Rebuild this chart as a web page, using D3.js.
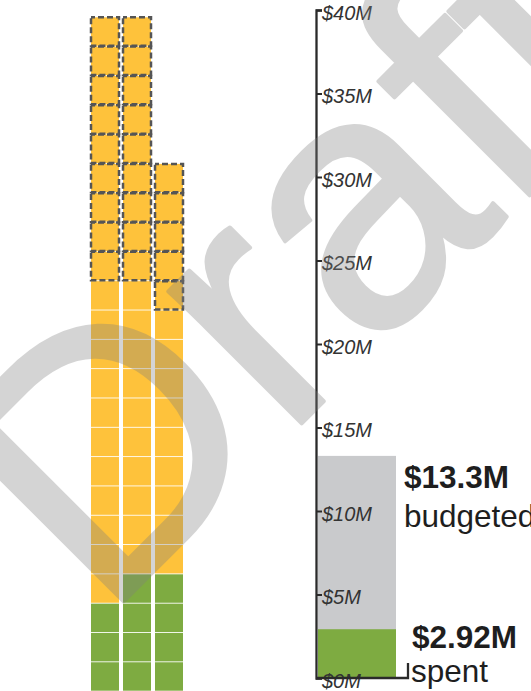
<!DOCTYPE html>
<html lang="en">
    <head>
        <meta charset="utf-8">
        <title>Budget waffle</title>
        <script type="text/javascript" src="https://cdn.jsdelivr.net/npm/d3@7"></script>
        <style>
            body { margin: 0; background: #fff; }
            svg { display: block; font-family: "Liberation Sans", Arial, sans-serif; }
        </style>
    </head>

    <body>
        <script type="text/javascript">

            // waffle columns: cells per column, dashed (planned) cells on top, green (spent) cells at the bottom
            var columns = [0, 1, 2];
            var cells_total = [23, 23, 18];
            var cells_planned = [9, 9, 5];
            var cells_spent = [3, 4, 4];

            // bar values in $M, with their labels
            var bar_names = ["budgeted", "spent"];
            var bar_values = [13.3, 2.92];
            var bar_labels = ["$13.3M", "$2.92M"];

            // axis ticks in $M
            var axis_ticks = [0, 5, 10, 15, 20, 25, 30, 35, 40];

            var colors = {
                planned: "#fec23b",
                budgeted: "#fec23b",
                spent: "#7eab41",
                bar_budgeted: "#c9cacc",
                bar_spent: "#7eab41"
            };

            var width = 531;
            var height = 691;

            var svg = d3.select("body")
                .append("svg")
                .attr("width", width)
                .attr("height", height);

            // ---- waffle ----
            var max_rows = d3.max(cells_total);

            var x_col = d3.scaleBand()
                .domain(columns)
                .range([91, 183])
                .paddingInner(0.125);

            var y_row = d3.scaleBand()
                .domain(d3.range(max_rows))
                .range([690.7, 17.3])
                .paddingInner(0.03);

            var cells = [];
            columns.forEach(function(c) {
                for (var r = 0; r < cells_total[c]; r++) {
                    var status = "budgeted";
                    if (r < cells_spent[c]) status = "spent";
                    else if (r >= cells_total[c] - cells_planned[c]) status = "planned";
                    cells.push({ col: c, row: r, status: status });
                }
            });

            var waffle = svg.append("g");

            waffle.selectAll("rect")
                .data(cells)
                .enter()
                .append("rect")
                .attr("x", function(d) { return x_col(d.col); })
                .attr("y", function(d) { return y_row(d.row); })
                .attr("width", x_col.bandwidth())
                .attr("height", y_row.bandwidth())
                .attr("fill", function(d) { return colors[d.status]; });

            // dashed outline for planned cells
            waffle.selectAll("rect.planned")
                .data(cells.filter(function(d) { return d.status == "planned"; }))
                .enter()
                .append("rect")
                .attr("class", "planned")
                .attr("x", function(d) { return x_col(d.col); })
                .attr("y", function(d) { return y_row(d.row); })
                .attr("width", x_col.bandwidth())
                .attr("height", y_row.bandwidth())
                .attr("fill", "none")
                .attr("stroke", "#555")
                .attr("stroke-width", 2.5)
                .attr("stroke-dasharray", "6,3")
                .attr("stroke-dashoffset", 2);

            // ---- bars + axis ----
            var axis_x = 316;

            var y = d3.scaleLinear()
                .domain([0, 40])
                .range([678, 10]);

            var x_bar = d3.scaleBand()
                .domain(bar_names)
                .range([318, 396])
                .padding(0);

            var bar_fill = [colors.bar_budgeted, colors.bar_spent];

            svg.append("g")
                .selectAll("rect")
                .data(bar_names)
                .enter()
                .append("rect")
                .attr("x", x_bar.range()[0])
                .attr("width", x_bar.range()[1] - x_bar.range()[0])
                .attr("y", function(d, i) { return y(bar_values[i]); })
                .attr("height", function(d, i) { return y(0) - y(bar_values[i]); })
                .attr("fill", function(d, i) { return bar_fill[i]; });

            var axis = svg.append("g")
                .attr("transform", "translate(" + axis_x + ",0)")
                .call(d3.axisRight(y)
                    .tickValues(axis_ticks)
                    .tickSize(6)
                    .tickSizeOuter(6)
                    .tickPadding(0)
                    .tickFormat(function(d) { return "$" + d + "M"; }));

            axis.select(".domain")
                .attr("stroke", "#2a2a2a")
                .attr("stroke-width", 2.3);
            axis.selectAll(".tick line")
                .attr("stroke", "#2a2a2a")
                .attr("stroke-width", 2);
            axis.selectAll(".tick text")
                .attr("font-family", "'Liberation Sans', Arial, sans-serif")
                .attr("font-style", "italic")
                .attr("font-size", 20)
                .attr("fill", "#333")
                .attr("dy", "0.45em");

            // bracket under the bars
            svg.append("path")
                .attr("d", "M" + axis_x + "," + y(0) + "H408V663")
                .attr("fill", "none")
                .attr("stroke", "#2a2a2a")
                .attr("stroke-width", 2.3);

            // value labels to the right of the bars
            var label_x = [404, 412];
            var label_y = [488, 648];
            var name_gap = [39, 34];

            var labels = svg.append("g")
                .selectAll("g")
                .data(bar_names)
                .enter()
                .append("g")
                .attr("transform", function(d, i) {
                    return "translate(" + label_x[i] + "," + label_y[i] + ")";
                });

            labels.append("text")
                .attr("font-size", 31.5)
                .attr("font-weight", "bold")
                .attr("fill", "#1e1e1e")
                .text(function(d, i) { return bar_labels[i]; });

            labels.append("text")
                .attr("x", function(d, i) { return i == 1 ? -1 : 0; })
                .attr("y", function(d, i) { return name_gap[i]; })
                .attr("font-size", 31.5)
                .attr("fill", "#1e1e1e")
                .text(function(d) { return d; });

            // ---- watermark ----
            svg.append("g")
                .attr("opacity", 0.33)
                .append("text")
                .attr("transform", "translate(103,622) rotate(-45)")
                .attr("font-family", "'Liberation Sans', Arial, sans-serif")
                .attr("font-size", 355)
                .attr("fill", "#7f7f7f")
                .attr("stroke", "#7f7f7f")
                .attr("stroke-width", 4)
                .attr("stroke-linejoin", "round")
                .text("Draft");

        </script>
    </body>
</html>
